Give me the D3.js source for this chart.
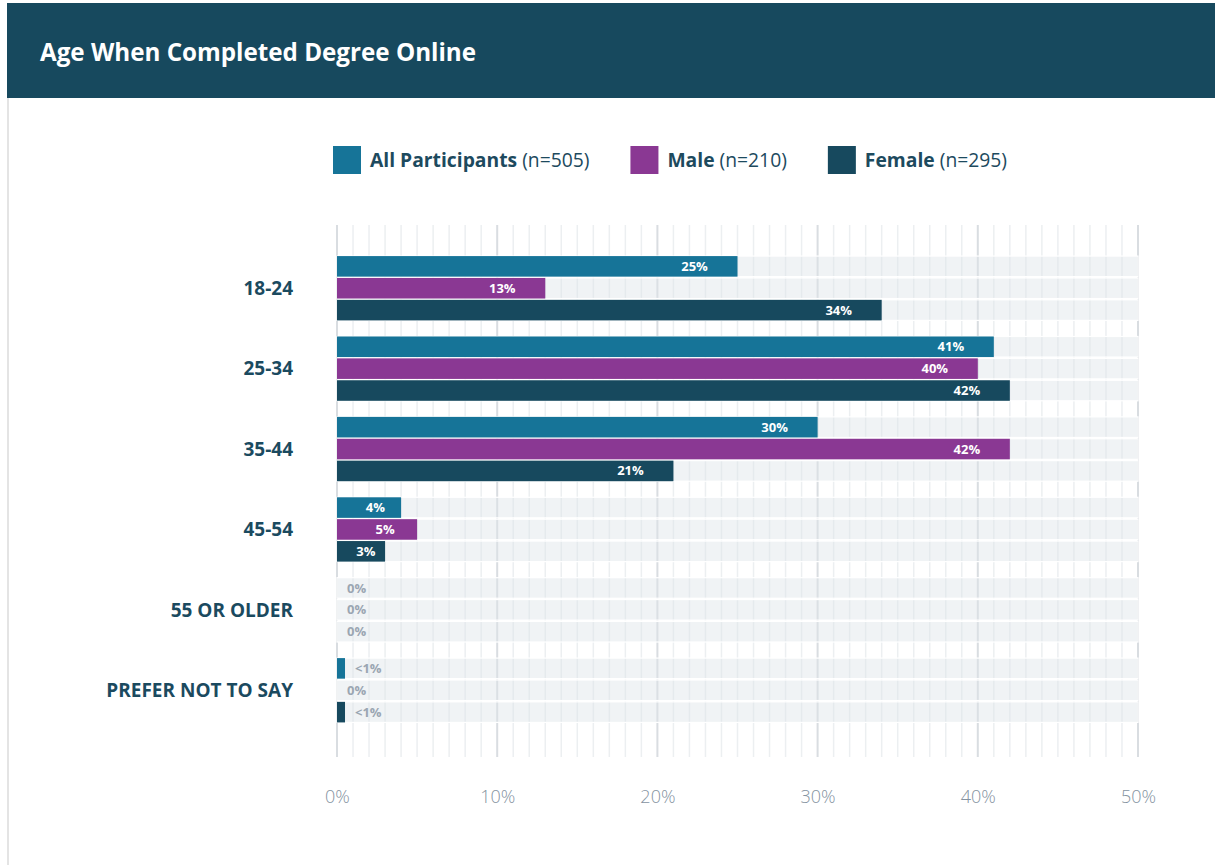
<!DOCTYPE html>
<html>
<head>
<meta charset="utf-8">
<script src="https://cdn.jsdelivr.net/npm/d3@7"></script>
<style>
  body { margin: 0; background: #fff; }
  svg { display: block; font-family: "Open Sans", "Noto Sans", sans-serif; }
</style>
</head>
<body>
<div id="chart"></div>
<script>
// chart data
const categories = ["18-24", "25-34", "35-44", "45-54", "55 OR OLDER", "PREFER NOT TO SAY"];
const seriesNames = ["All Participants", "Male", "Female"];
const seriesCounts = ["(n=505)", "(n=210)", "(n=295)"];
const allValues = [25, 41, 30, 4, 0, 0.5];
const maleValues = [13, 40, 42, 5, 0, 0];
const femaleValues = [34, 42, 21, 3, 0, 0.5];
const xTicks = [0, 10, 20, 30, 40, 50];
const title = "Age When Completed Degree Online";

const colors = ["#167498", "#8a3893", "#17495e"];
const seriesValues = [allValues, maleValues, femaleValues];

const W = 1215, H = 865;

const svg = d3.select("#chart")
    .append("svg")
    .attr("width", W)
    .attr("height", H);

// header + card border
svg.append("rect")
    .attr("x", 7).attr("y", 98)
    .attr("width", 2).attr("height", H - 98)
    .attr("fill", "#e4e4e4");
svg.append("rect")
    .attr("x", 7).attr("y", 3)
    .attr("width", W - 7).attr("height", 95)
    .attr("fill", "#17495e");
svg.append("text")
    .attr("x", 40).attr("y", 61)
    .attr("fill", "#fff")
    .attr("font-size", 24.2)
    .attr("font-weight", 700)
    .text(title);

// scales
const x = d3.scaleLinear()
    .domain([0, 50])
    .range([337, 1138]);

const y = d3.scaleBand()
    .domain(categories)
    .range([240, 738.5])
    .padding(0.2);

const ySub = d3.scaleBand()
    .domain(seriesNames)
    .range([0, y.bandwidth()])
    .paddingInner(0.06);

// rows of flat records
const rows = [];
categories.forEach((c, i) => {
    seriesNames.forEach((s, j) => {
        rows.push({cat: c, series: s, value: seriesValues[j][i], color: colors[j]});
    });
});

// gridlines
const gridTop = 225, gridBottom = 757;
const minor = d3.range(0, 51, 1);
svg.append("g")
    .selectAll("line")
    .data(minor.filter(d => d % 10 !== 0))
    .join("line")
    .attr("x1", d => x(d)).attr("x2", d => x(d))
    .attr("y1", gridTop).attr("y2", gridBottom)
    .attr("stroke", "#eceff1")
    .attr("stroke-width", 1.5);
svg.append("g")
    .selectAll("line")
    .data(xTicks)
    .join("line")
    .attr("x1", d => x(d)).attr("x2", d => x(d))
    .attr("y1", gridTop).attr("y2", gridBottom)
    .attr("stroke", "#d9dde1")
    .attr("stroke-width", 2);

// background bands behind every bar slot
svg.append("g")
    .selectAll("rect")
    .data(rows)
    .join("rect")
    .attr("x", x(0))
    .attr("y", d => y(d.cat) + ySub(d.series))
    .attr("width", x(50) - x(0))
    .attr("height", ySub.bandwidth())
    .attr("fill", "rgba(222,229,233,0.45)")
    .attr("stroke", "#fff")
    .attr("stroke-width", 1.2);

// bars
svg.append("g")
    .selectAll("rect")
    .data(rows.filter(d => d.value > 0))
    .join("rect")
    .attr("x", x(0))
    .attr("y", d => y(d.cat) + ySub(d.series))
    .attr("width", d => x(d.value) - x(0))
    .attr("height", ySub.bandwidth())
    .attr("fill", d => d.color);

// value labels
const fmt = v => v === 0 ? "0%" : (v < 1 ? "<1%" : v + "%");
svg.append("g")
    .selectAll("text")
    .data(rows)
    .join("text")
    .attr("x", d => {
        const w = x(d.value) - x(0);
        return d.value >= 1 ? x(d.value) - Math.min(43, w * 0.4) : x(d.value) + 10;
    })
    .attr("y", d => y(d.cat) + ySub(d.series) + ySub.bandwidth() / 2)
    .attr("dy", "0.35em")
    .attr("text-anchor", d => d.value >= 1 ? "middle" : "start")
    .attr("font-size", 13)
    .attr("font-weight", 700)
    .attr("fill", d => d.value >= 1 ? "#fff" : "#9ba6b2")
    .text(d => fmt(d.value));

// category labels
svg.append("g")
    .selectAll("text")
    .data(categories)
    .join("text")
    .attr("x", 293)
    .attr("y", d => y(d) + y.bandwidth() / 2)
    .attr("dy", "0.35em")
    .attr("text-anchor", "end")
    .attr("font-size", 19)
    .attr("font-weight", 700)
    .attr("fill", "#1b4a5f")
    .text(d => d);

// x axis
const xAxis = svg.append("g")
    .attr("transform", `translate(0, 797)`)
    .call(d3.axisBottom(x).tickValues(xTicks).tickSize(0).tickFormat(d => d + "%"));
xAxis.select(".domain").remove();
xAxis.selectAll("text")
    .attr("y", 0)
    .attr("dy", "0.35em")
    .attr("font-size", 18)
    .attr("font-weight", 300)
    .attr("font-family", "\"Open Sans\", sans-serif")
    .attr("fill", "#8593a1");

// legend
const legend = svg.append("g").attr("transform", "translate(333, 146)");
let lx = 0;
seriesNames.forEach((s, i) => {
    const item = legend.append("g").attr("transform", `translate(${lx}, 0)`);
    item.append("rect")
        .attr("width", 28).attr("height", 28)
        .attr("fill", colors[i]);
    const t = item.append("text")
        .attr("x", 37).attr("y", 14)
        .attr("dy", "0.35em")
        .attr("font-size", 19.3)
        .attr("fill", "#1d4a5e");
    t.append("tspan").attr("font-weight", 700).text(s);
    t.append("tspan").attr("font-weight", 400).text(" " + seriesCounts[i]);
    lx += 37 + t.node().getComputedTextLength() + 41;
});
</script>
</body>
</html>
